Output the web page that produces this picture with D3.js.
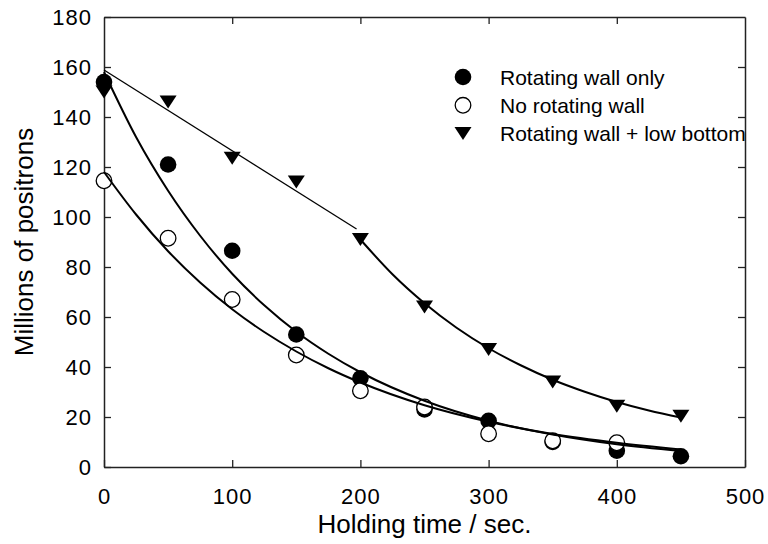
<!DOCTYPE html>
<html>
<head>
<meta charset="utf-8">
<script src="https://cdn.jsdelivr.net/npm/d3@7"></script>
<style>
  body { margin: 0; background: #fff; }
  text { font-family: "Liberation Sans", Arial, Helvetica, sans-serif; fill: #000; }
</style>
</head>
<body>
<div id="chart"></div>
<script>
var holdTimes = [0, 50, 100, 150, 200, 250, 300, 350, 400, 450];
var wallOnly = [154, 121, 86.5, 53, 35.5, 23, 18.5, 10, 6.5, 4.3];
var noWall = [114.5, 91.5, 67, 44.8, 30.5, 24, 13.3, 10.5, 9.7];
var wallLowBottom = [150, 146, 123.5, 114, 91, 64, 47, 34, 24.3, 20.3];

// Fitted curves as drawn in the figure
var fitX = [0, 25, 50, 75, 100, 125, 150, 175, 200, 250, 300, 350, 400, 450];
var fitWallOnly = [158, 132, 110.5, 92.5, 77.3, 64.7, 54.1, 45.3, 37.9, 26.5, 18.5, 13, 9.1, 6.4];
var fitNoWall = [118, 101, 86.3, 73.8, 63.1, 54, 46.2, 39.5, 33.8, 24.7, 18.1, 13.2, 9.7, 7];
var lineLowX = [0, 197];
var lineLowY = [158.8, 95.2];
var curveLowX = [200, 225, 250, 275, 300, 325, 350, 375, 400, 425, 450];
var curveLowY = [91, 77.1, 65.5, 55.7, 47.5, 40.7, 34.9, 30.1, 26, 22.6, 19.8];

var xTicks = [0, 100, 200, 300, 400, 500];
var yTicks = [0, 20, 40, 60, 80, 100, 120, 140, 160, 180];
var legendNames = ["Rotating wall only", "No rotating wall", "Rotating wall + low bottom"];

var svgWidth = 768;
var svgHeight = 544;
var margin = { top: 17, right: 23, bottom: 77, left: 104 };
var width = svgWidth - margin.left - margin.right;
var height = svgHeight - margin.top - margin.bottom;

var svg = d3.select("#chart")
  .append("svg")
  .attr("width", svgWidth)
  .attr("height", svgHeight);

var chartGroup = svg.append("g")
  .attr("transform", `translate(${margin.left}, ${margin.top})`);

var xScale = d3.scaleLinear().domain([0, 500]).range([0, width]);
var yScale = d3.scaleLinear().domain([0, 180]).range([height, 0]);

// Axes: ticks point inward on all four sides
function styleAxis(g) {
  g.select(".domain").attr("stroke", "#222").attr("stroke-width", 1.5);
  g.selectAll(".tick line").attr("stroke", "#222").attr("stroke-width", 1.3);
  g.selectAll(".tick text")
    .attr("fill", "#000")
    .style("font-family", "'Liberation Sans', Arial, sans-serif")
    .style("font-size", "22px")
    .style("letter-spacing", "1px");
}

var bottomAxis = chartGroup.append("g")
  .attr("transform", `translate(0, ${height})`)
  .call(d3.axisBottom(xScale).tickValues(xTicks).tickSize(-7).tickSizeOuter(0).tickPadding(37))
  .call(styleAxis);
bottomAxis.selectAll(".tick text").attr("dy", "0");

var topAxis = chartGroup.append("g")
  .call(d3.axisTop(xScale).tickValues(xTicks.slice(1, 5)).tickSize(-7).tickSizeOuter(0).tickFormat(""))
  .call(styleAxis);

var leftAxis = chartGroup.append("g")
  .call(d3.axisLeft(yScale).tickValues(yTicks).tickSize(-7).tickSizeOuter(0).tickPadding(12))
  .call(styleAxis);

var rightAxis = chartGroup.append("g")
  .attr("transform", `translate(${width}, 0)`)
  .call(d3.axisRight(yScale).tickValues(yTicks.slice(1, 9)).tickSize(-7).tickSizeOuter(0).tickFormat(""))
  .call(styleAxis);

// Markers
var triangle = "M-8.5,-6.5L8.5,-6.5L0,6.5Z";

chartGroup.selectAll(".tri")
  .data(wallLowBottom)
  .enter()
  .append("path")
  .attr("class", "tri")
  .attr("d", triangle)
  .attr("transform", (d, i) => `translate(${xScale(holdTimes[i])}, ${yScale(d)})`)
  .attr("fill", "#000");

chartGroup.selectAll(".filled")
  .data(wallOnly)
  .enter()
  .append("circle")
  .attr("class", "filled")
  .attr("cx", (d, i) => xScale(holdTimes[i]))
  .attr("cy", d => yScale(d))
  .attr("r", 8.3)
  .attr("fill", "#000");

chartGroup.selectAll(".open")
  .data(noWall)
  .enter()
  .append("circle")
  .attr("class", "open")
  .attr("cx", (d, i) => xScale(holdTimes[i]))
  .attr("cy", d => yScale(d))
  .attr("r", 7.8)
  .attr("fill", "#fff")
  .attr("stroke", "#000")
  .attr("stroke-width", 1.3);

// Fit lines
var fitLine = d3.line()
  .x(d => xScale(d[0]))
  .y(d => yScale(d[1]))
  .curve(d3.curveMonotoneX);

function addLine(xs, ys, w) {
  chartGroup.append("path")
    .datum(xs.map((x, i) => [x, ys[i]]))
    .attr("d", fitLine)
    .attr("fill", "none")
    .attr("stroke", "#000")
    .attr("stroke-width", w);
}
addLine(fitX, fitWallOnly, 2);
addLine(fitX, fitNoWall, 2);
addLine(lineLowX, lineLowY, 1.3);
addLine(curveLowX, curveLowY, 2);

// Legend
var legend = svg.append("g").attr("transform", "translate(463, 77)");
legendNames.forEach(function(name, i) {
  var row = legend.append("g").attr("transform", `translate(0, ${i * 28.3})`);
  if (i === 0) {
    row.append("circle").attr("r", 8.3).attr("fill", "#000");
  } else if (i === 1) {
    row.append("circle").attr("r", 7.8).attr("fill", "#fff").attr("stroke", "#000").attr("stroke-width", 1.3);
  } else {
    row.append("path").attr("d", triangle).attr("fill", "#000");
  }
  row.append("text")
    .attr("x", 37)
    .attr("y", 7.5)
    .style("font-size", "21px")
    .text(name);
});

// Axis titles
svg.append("text")
  .attr("x", margin.left + width / 2)
  .attr("y", 533)
  .attr("text-anchor", "middle")
  .style("font-size", "26px")
  .text("Holding time / sec.");

svg.append("text")
  .attr("transform", `translate(33, ${margin.top + height / 2}) rotate(-90)`)
  .attr("text-anchor", "middle")
  .style("font-size", "26px")
  .text("Millions of positrons");
</script>
</body>
</html>
